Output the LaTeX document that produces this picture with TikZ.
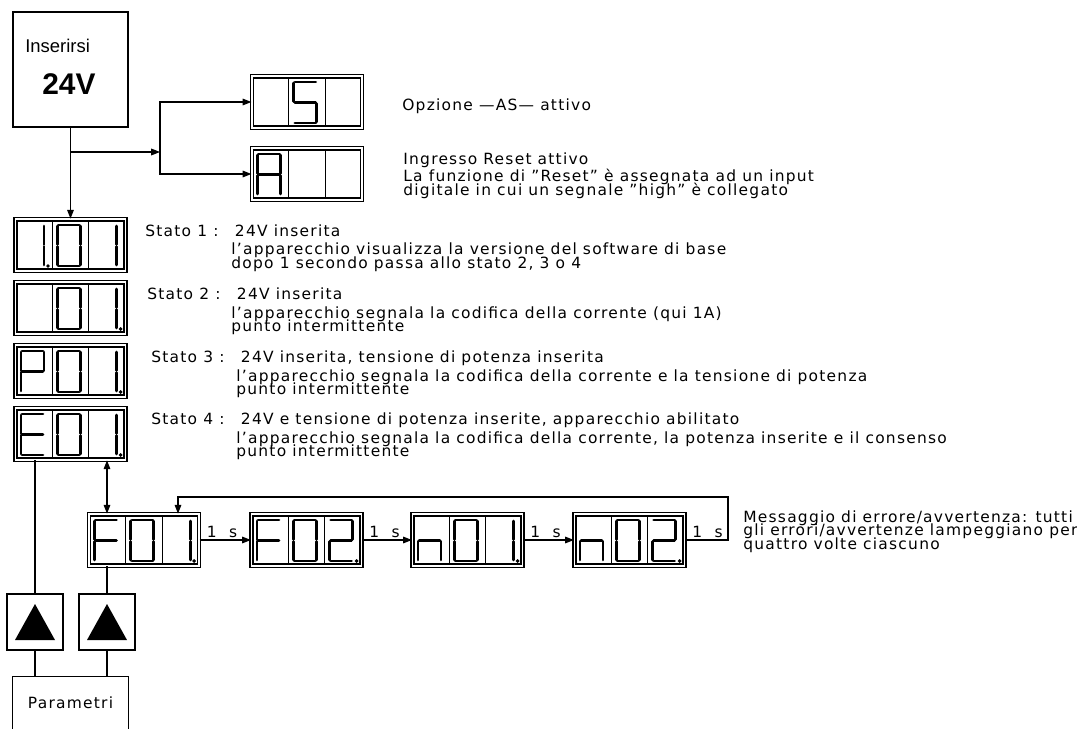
\documentclass[tikz,border=0pt]{standalone}
\usepackage{fontspec}
\setmainfont{DejaVu Sans}[LetterSpace=8]
\newfontfamily\arialfont{Liberation Sans}
\usetikzlibrary{arrows.meta}

% lines of text with a fixed baseline distance, baseline = first line
\newcommand{\para}[1]{\vtop{\let\\\cr\baselineskip=7.85pt\lineskiplimit=-20pt\lineskip=0pt
  \halign{##\hfil\cr#1\crcr}}}

% seven segment glyphs (pairs of corner points)
\newcommand{\gS}{tl/tr, tl/ml, ml/mr, mr/br, br/bl}
\newcommand{\gA}{bl/ml, ml/tl, tl/tr, tr/mr, mr/br, ml/mr}
\newcommand{\gOne}{tr/mr, mr/br}
\newcommand{\gZero}{tl/tr, tr/mr, mr/br, br/bl, bl/ml, ml/tl}
\newcommand{\gTwo}{tl/tr, tr/mr, mr/ml, ml/bl, bl/br}
\newcommand{\gP}{bl/ml, ml/tl, tl/tr, tr/mr, mr/ml}
\newcommand{\gE}{tr/tl, tl/ml, ml/bl, bl/br, ml/mr}
\newcommand{\gF}{tr/tl, tl/ml, ml/bl, ml/mr}
\newcommand{\gN}{bl/ml, ml/mr, mr/br}

% cell dividers of a display
\newcommand{\cells}[1]{%
  \begin{scope}[shift={(#1.center)}]
    \draw[conn] (-18.2,-23.6) -- (-18.2,23.6) (18.2,-23.6) -- (18.2,23.6);
  \end{scope}}

% #1 display, #2 cell, #3 glyph, #4 decimal point (1/0)
\newcommand{\glyph}[4]{%
  \begin{scope}[shift={(#1.center)}, shift={({(#2-1)*36.3-54.5},0)}]
    \coordinate (tl) at (5,-20); \coordinate (tr) at (28,-20);
    \coordinate (ml) at (5,0.5); \coordinate (mr) at (28,0.5);
    \coordinate (bl) at (5,21);  \coordinate (br) at (28,21);
    \foreach \p/\q in #3 {\draw[segline] (\p) -- (\q);}
    \ifnum#4=1 \fill (32,21) circle (1.1pt);\fi
  \end{scope}}

\begin{document}
\begin{tikzpicture}[x=0.02cm, y=-0.02cm,
    every node/.style={font=\fontsize{8.8}{9}\selectfont},
    disp/.style={draw, double, double distance=1.1pt, line width=0.75pt,
      minimum width=2.2cm, minimum height=1.03cm, inner sep=0pt},
    box/.style={draw, line width=0.75pt, inner sep=0pt},
    conn/.style={line width=0.6pt},
    arr/.style={conn, -{Triangle[length=5pt,width=3.8pt]}},
    darr/.style={conn, {Triangle[length=5pt,width=3.8pt]}-{Triangle[length=5pt,width=3.8pt]}},
    segline/.style={line width=1.6pt, line cap=round, shorten <=0.6pt, shorten >=0.6pt},
    txt/.style={anchor=base west, inner sep=0pt},
    sec/.style={anchor=south west, inner sep=1pt, xshift=0.1cm}]
    \useasboundingbox (0,0) rectangle (1077,729);

    % supply
    \node[box, minimum width=2.3cm, minimum height=2.3cm] (pwr) at (70.5,69.5) {};
    \node[txt, font=\arialfont\fontsize{10.5}{12}\selectfont] (pwrt) at (25,53) {Inserirsi};
    \node[txt, font=\arialfont\bfseries\fontsize{17}{20}\selectfont] (pwrv) at (42,95) {24V};

    % displays
    \node[disp] (dS) at (307,102) {};
    \node[disp] (dA) at (307,174) {};
    \foreach \i/\y in {1/245, 2/308, 3/371, 4/434} {
        \node[disp] (d\i) at (70.5,\y) {};
    }
    \foreach \n/\x in {f01/144, f02/306.5, n01/467.5, n02/629.5} {
        \node[disp] (\n) at (\x,540) {};
    }
    \foreach \n in {dS, dA, d1, d2, d3, d4, f01, f02, n01, n02} {
        \cells{\n}
    }
    \glyph{dS}{2}{\gS}{0}
    \glyph{dA}{1}{\gA}{0}
    \glyph{d1}{1}{\gOne}{1} \glyph{d1}{2}{\gZero}{0} \glyph{d1}{3}{\gOne}{0}
    \glyph{d2}{2}{\gZero}{0} \glyph{d2}{3}{\gOne}{1}
    \glyph{d3}{1}{\gP}{0} \glyph{d3}{2}{\gZero}{0} \glyph{d3}{3}{\gOne}{1}
    \glyph{d4}{1}{\gE}{0} \glyph{d4}{2}{\gZero}{0} \glyph{d4}{3}{\gOne}{1}
    \glyph{f01}{1}{\gF}{0} \glyph{f01}{2}{\gZero}{0} \glyph{f01}{3}{\gOne}{1}
    \glyph{f02}{1}{\gF}{0} \glyph{f02}{2}{\gZero}{0} \glyph{f02}{3}{\gTwo}{1}
    \glyph{n01}{1}{\gN}{0} \glyph{n01}{2}{\gZero}{0} \glyph{n01}{3}{\gOne}{1}
    \glyph{n02}{1}{\gN}{0} \glyph{n02}{2}{\gZero}{0} \glyph{n02}{3}{\gTwo}{1}

    % keys and parameter box
    \node[box, minimum size=1.12cm] (tb1) at (35,622) {};
    \node[box, minimum size=1.12cm] (tb2) at (107,622) {};
    \fill (tb1.center) ++(-20,18) -- ++(40,0) -- ++(-20,-36) -- cycle;
    \fill (tb2.center) ++(-20,18) -- ++(40,0) -- ++(-20,-36) -- cycle;
    \node[inner sep=0pt, minimum width=2.3cm, minimum height=1.04cm,
      font=\fontsize{8.8}{10}\selectfont] (par) at (70.5,703) {Parametri};
    \draw[line width=0.75pt] (par.south west) -- (par.north west) -- (par.north east) -- (par.south east);

    % connectors
    \coordinate (sp) at (70.5,152);
    \coordinate (fork) at (160,152);
    \draw[arr] (pwr.south) -- (d1.north);
    \draw[arr] (sp) -- (fork);
    \draw[arr] (fork) |- (dS.west);
    \draw[arr] (fork) |- (dA.west);
    \draw[darr] (d4.south -| 107,0) -- (f01.north -| 107,0);
    \draw[conn] (d4.south -| tb1.north) -- (tb1.north);
    \draw[conn] (f01.south -| tb2.north) -- (tb2.north);
    \draw[conn] (tb1.south) -- (tb1.south |- par.north);
    \draw[conn] (tb2.south) -- (tb2.south |- par.north);

    \draw[arr] (f01) -- node[sec, pos=0] {1~~s} (f02);
    \draw[arr] (f02) -- node[sec, pos=0] {1~~s} (n01);
    \draw[arr] (n01) -- node[sec, pos=0] {1~~s} (n02);
    \coordinate (back) at (728,497);
    \draw[arr] (n02.east) -- node[sec, pos=0] {1~~s} (n02.east -| back) -- (back)
        -- (back -| 178,0) -- (f01.north -| 178,0);

    % texts
    \node[txt] (opt) at (402,111) {Opzione —AS— attivo};
    \node[txt] (rst) at (403,165) {Ingresso Reset attivo};
    \node[txt] (rstd) at (403,182) {\para{La funzione di "Reset" è assegnata ad un input\\
        digitale in cui un segnale "high" è collegato}};
    \node[txt] (t1) at (145,236) {\makebox[51pt][l]{Stato 1 :}24V inserita};
    \node[txt] (t1d) at (231,255) {\para{l'apparecchio visualizza la versione del software di base\\
        dopo 1 secondo passa allo stato 2, 3 o 4}};
    \node[txt] (t2) at (147,299) {\makebox[51pt][l]{Stato 2 :}24V inserita};
    \node[txt] (t2d) at (231,318) {\para{l'apparecchio segnala la codifica della corrente (qui 1A)\\
        punto intermittente}};
    \node[txt] (t3) at (151,362) {\makebox[51pt][l]{Stato 3 :}24V inserita, tensione di potenza inserita};
    \node[txt] (t3d) at (236,381) {\para{l'apparecchio segnala la codifica della corrente e la tensione di potenza\\
        punto intermittente}};
    \node[txt] (t4) at (151,424) {\makebox[51pt][l]{Stato 4 :}24V e tensione di potenza inserite, apparecchio abilitato};
    \node[txt] (t4d) at (236,443) {\para{l'apparecchio segnala la codifica della corrente, la potenza inserite e il consenso\\
        punto intermittente}};
    \node[txt] (msg) at (743,522) {\para{Messaggio di errore/avvertenza: tutti\\
        gli errori/avvertenze lampeggiano per\\quattro volte ciascuno}};
\end{tikzpicture}
\end{document}
